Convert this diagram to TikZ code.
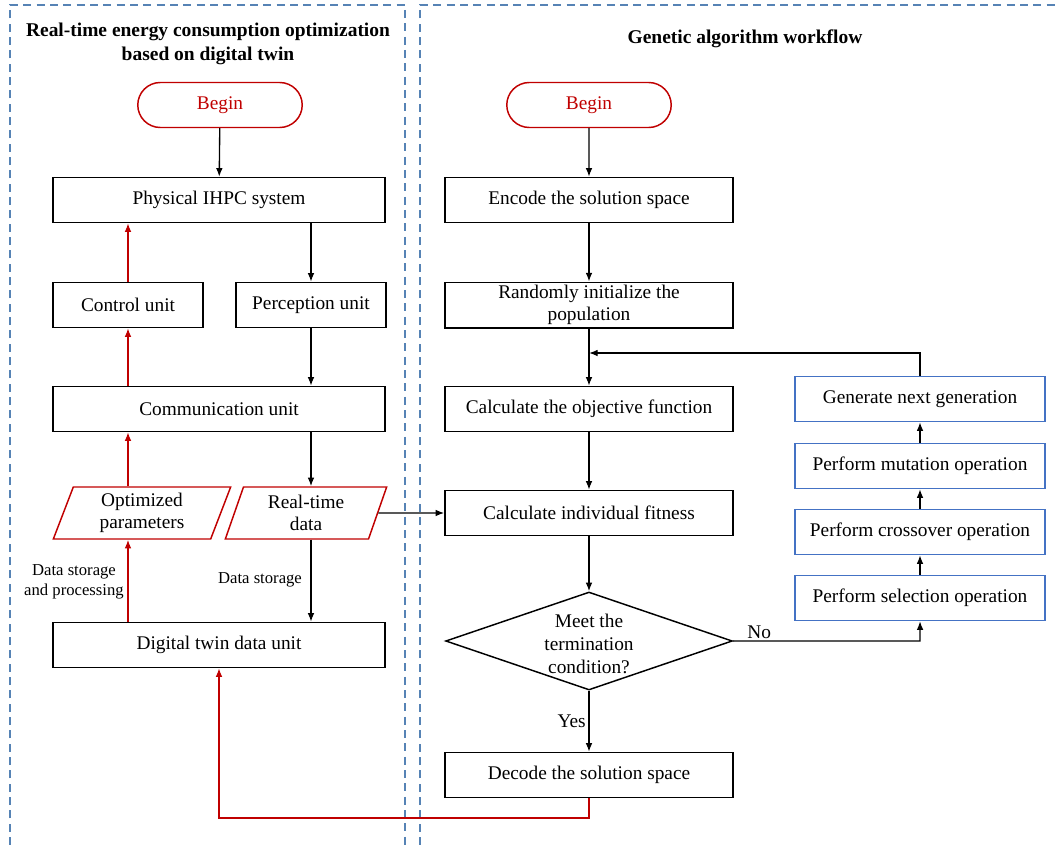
\documentclass[tikz,border=0pt]{standalone}
\usepackage{fontspec}
\setmainfont{Liberation Serif}
\usetikzlibrary{shapes.geometric,shapes.misc,arrows.meta}
\definecolor{flowred}{HTML}{C00000}
\definecolor{boxblue}{HTML}{4472C4}
\definecolor{framebl}{HTML}{5683B5}

\begin{document}
\begin{tikzpicture}[x=0.75pt, y=-0.75pt, >={Latex[length=6.5pt,width=5pt]},
    font=\fontsize{14.5}{17}\selectfont,
    box/.style={draw, line width=1.1pt, minimum height=33.75pt, inner sep=2pt, align=center},
    widebox/.style={box, minimum width=249pt},
    halfbox/.style={box, minimum width=112.5pt},
    gabox/.style={box, minimum width=216pt},
    opbox/.style={box, draw=boxblue, minimum width=187.5pt},
    startbox/.style={draw=flowred, text=flowred, line width=1.1pt, rounded rectangle,
        minimum width=130pt, minimum height=33.75pt},
    databox/.style={draw=flowred, line width=1.1pt, trapezium, trapezium left angle=65,
        trapezium right angle=115, trapezium stretches body, minimum width=133pt,
        minimum height=39pt, inner sep=1pt, align=center},
    blk/.style={->, line width=1pt},
    redln/.style={->, line width=1pt, flowred},
    small/.style={font=\fontsize{12.5}{15}\selectfont, align=center}]

    \useasboundingbox (0,0) rectangle (1059,845);

    %frames
    \draw[framebl, line width=1.1pt, dash pattern=on 6pt off 4pt] (10,845) -- (10,5) -- (405,5) -- (405,845);
    \draw[framebl, line width=1.1pt, dash pattern=on 6pt off 4pt] (420,845) -- (420,5) -- (1062,5);

    \node[font=\fontsize{14.6}{17.5}\selectfont\bfseries, align=center] (ttlL) at (208,44)
        {Real-time energy consumption optimization\\based on digital twin};
    \node[font=\fontsize{14.6}{17.5}\selectfont\bfseries] (ttlR) at (745,39) {Genetic algorithm workflow};

    %digital twin side
    \node[startbox] (bgnL) at (220,105) {Begin};
    \node[widebox] (phys) at (219,200) {Physical IHPC system};
    \node[halfbox] (ctrl) at (128,305) {Control unit};
    \node[halfbox] (perc) at (311,305) {Perception unit};
    \node[widebox] (comm) at (219,409) {Communication unit};
    \node[databox] (opt) at (142,513) {Optimized\\parameters};
    \node[databox, minimum width=121pt] (rtd) at (306,513) {Real-time\\data};
    \node[widebox] (dtu) at (219,645) {Digital twin data unit};

    \node[small] (lblproc) at (74,582) {Data storage\\and processing};
    \node[small] (lblstor) at (260,580) {Data storage};

    \draw[blk] (bgnL) -- (phys);
    \draw[blk] (phys.south -| perc) -- (perc);
    \draw[blk] (perc) -- (perc |- comm.north);
    \draw[blk] (perc |- comm.south) -- (perc |- rtd.north);
    \draw[blk] (perc |- rtd.south) -- (perc |- dtu.north);

    \draw[redln] (ctrl |- dtu.north) -- (ctrl |- opt.south);
    \draw[redln] (ctrl |- opt.north) -- (ctrl |- comm.south);
    \draw[redln] (ctrl |- comm.north) -- (ctrl);
    \draw[redln] (ctrl) -- (ctrl |- phys.south);

    %genetic algorithm side
    \node[startbox] (bgnR) at (589,105) {Begin};
    \node[gabox] (enc) at (589,200) {Encode the solution space};
    \node[gabox] (init) at (589,305) {Randomly initialize the\\population};
    \node[gabox] (obj) at (589,409) {Calculate the objective function};
    \node[gabox] (fit) at (589,513) {Calculate individual fitness};
    \node[diamond, draw, line width=1.1pt, minimum width=215pt, minimum height=73.5pt, inner sep=0pt] (cond) at (589,641) {};
    \node[align=center] (condtxt) at (589,644) {Meet the\\termination\\condition?};
    \node[gabox] (dec) at (589,775) {Decode the solution space};

    \node[opbox] (gen) at (920,399) {Generate next generation};
    \node[opbox] (mut) at (920,466) {Perform mutation operation};
    \node[opbox] (cross) at (920,532) {Perform crossover operation};
    \node[opbox] (sel) at (920,598) {Perform selection operation};

    \coordinate (merge) at (589,353);
    \coordinate (loopbot) at (589,818);

    \draw[blk] (bgnR) -- (enc);
    \draw[blk] (enc) -- (init);
    \draw[blk] (init) -- (obj);
    \draw[blk] (obj) -- (fit);
    \draw[blk] (fit) -- (cond);
    \draw[blk] (cond) -- node[left, inner sep=2pt] (yes) {Yes} (dec);
    \draw[blk] (cond.east) -- node[pos=0.14, above, inner sep=1pt] (no) {No} ++(187,0) -- (sel);
    \draw[blk] (sel) -- (cross);
    \draw[blk] (cross) -- (mut);
    \draw[blk] (mut) -- (gen);
    \draw[blk] (gen) |- (merge);

    %between the two sides
    \draw[blk] (rtd.east) -- (fit.west);
    \draw[redln] (dec) -- (loopbot) -| (dtu.south);

\end{tikzpicture}
\end{document}
